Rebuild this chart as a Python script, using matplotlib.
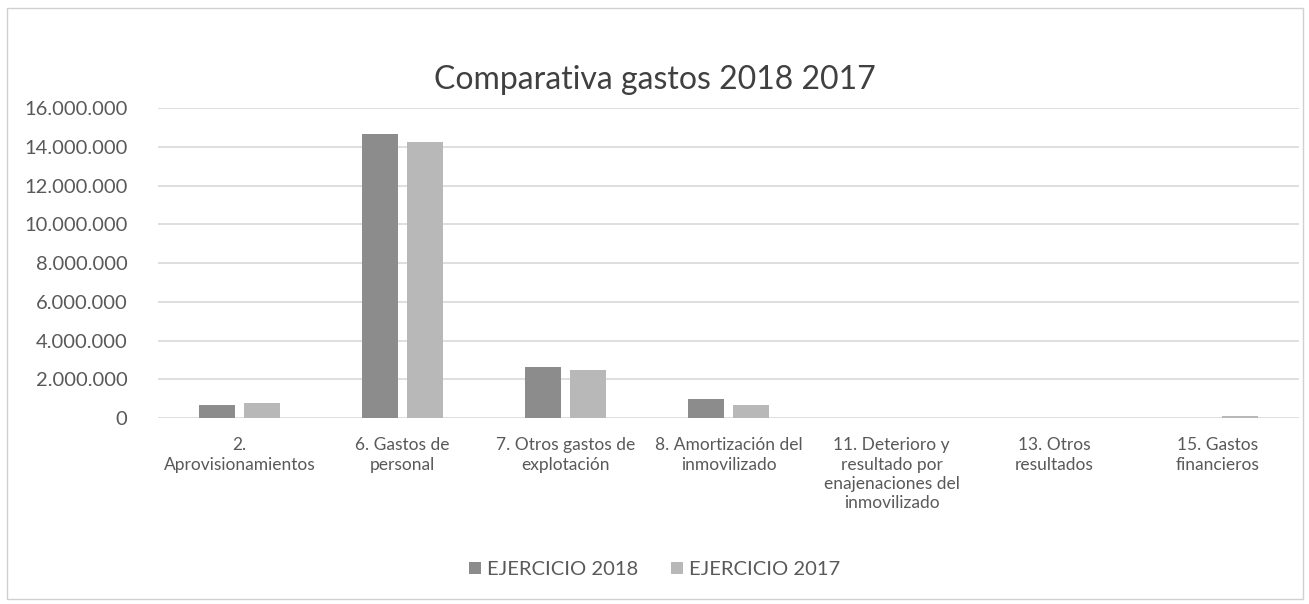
import numpy as np
import matplotlib.pyplot as plt
from matplotlib.patches import Rectangle
from matplotlib.ticker import FuncFormatter

plt.rcParams['font.family'] = ['Lato', 'DejaVu Sans']

categories = ['2.\nAprovisionamientos', '6. Gastos de\npersonal',
              '7. Otros gastos de\nexplotación', '8. Amortización del\ninmovilizado',
              '11. Deterioro y\nresultado por\nenajenaciones del\ninmovilizado',
              '13. Otros\nresultados', '15. Gastos\nfinancieros']
ejercicio_2018 = [670000, 14660000, 2620000, 980000, 0, 0, 0]
ejercicio_2017 = [790000, 14260000, 2480000, 670000, 0, 0, 100000]
series_names = ['EJERCICIO 2018', 'EJERCICIO 2017']

text_col = '#595959'
fig = plt.figure(figsize=(13.09, 6.04), dpi=100)
ax = fig.add_axes([0.1207, 0.308, 0.8717, 0.513])

x = np.arange(len(categories))
w = 0.22
gap = 0.06
ax.bar(x - (w + gap) / 2, ejercicio_2018, w, color='#8c8c8c', label=series_names[0], zorder=2)
ax.bar(x + (w + gap) / 2, ejercicio_2017, w, color='#b8b8b8', label=series_names[1], zorder=2)

ax.set_xlim(-0.5, len(categories) - 0.5)
ax.set_ylim(0, 16000000)
ax.set_yticks(np.arange(0, 16000001, 2000000))
ax.yaxis.set_major_formatter(FuncFormatter(lambda v, p: f'{int(v):,}'.replace(',', '.')))
ax.grid(axis='y', color='#d9d9d9', linewidth=1.2, zorder=0)
for s in ax.spines.values():
    s.set_visible(False)
ax.tick_params(axis='both', length=0, colors=text_col)
ax.tick_params(axis='y', pad=22, labelsize=14.5)
ax.tick_params(axis='x', pad=14, labelsize=12.5)
ax.set_xticks(x)
ax.set_xticklabels(categories, linespacing=1.25)

fig.text(0.5, 1 - 80 / 604, 'Comparativa gastos 2018 2017', fontsize=23,
         color='#404040', ha='center', va='center')

fig.legend(loc='center', bbox_to_anchor=(0.5, 0.057), ncol=2, frameon=False,
           fontsize=14.5, labelcolor=text_col, handlelength=0.6, handleheight=0.6,
           handletextpad=0.3, columnspacing=1.6)

# light frame around the whole chart
fig.patches.append(Rectangle((0.0053, 0.008), 0.990, 0.978, transform=fig.transFigure,
                             fill=False, edgecolor='#d0d0d0', linewidth=1))

fig.savefig('out.png', dpi=100)
